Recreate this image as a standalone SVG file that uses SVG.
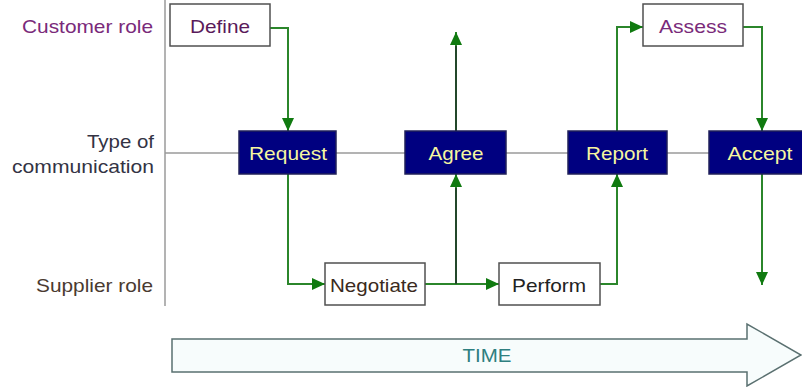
<svg xmlns="http://www.w3.org/2000/svg" width="802" height="387" viewBox="0 0 802 387">
  <style>
    text { font-family: "Liberation Sans", Arial, sans-serif; font-size: 19px; }
    .lane { fill: none; stroke: #9a9a9a; stroke-width: 1.5; }
    .role { text-anchor: end; }
    .step { fill: #ffffff; stroke: #505050; stroke-width: 1.5; }
    .msg { fill: #000080; stroke: #20205a; stroke-width: 1.5; }
    .msg-label { fill: #f6f6a0; text-anchor: middle; }
    .step-label { text-anchor: middle; }
    .flow { fill: none; stroke: #2b862b; stroke-width: 2; marker-end: url(#head); }
    .flow-dark { fill: none; stroke: #23472a; stroke-width: 2; }
  </style>
  <defs>
    <marker id="head" markerUnits="userSpaceOnUse" markerWidth="14" markerHeight="12" refX="13" refY="6" orient="auto">
      <path d="M0,0 L13,6 L0,12 Z" fill="#107a10"/>
    </marker>
  </defs>

  <rect width="802" height="387" fill="#ffffff"/>

  <!-- swimlane axes -->
  <g id="lanes">
    <line class="lane" x1="165" y1="0" x2="165" y2="306"/>
    <line class="lane" x1="165" y1="153" x2="802" y2="153"/>
  </g>

  <!-- role labels -->
  <g id="roles">
    <text class="role" x="153" y="33" fill="#7a2a7a" textLength="131" lengthAdjust="spacingAndGlyphs">Customer role</text>
    <text class="role" x="154" y="148" fill="#333344" textLength="67" lengthAdjust="spacingAndGlyphs">Type of</text>
    <text class="role" x="154" y="173" fill="#333344" textLength="142" lengthAdjust="spacingAndGlyphs">communication</text>
    <text class="role" x="153" y="292" fill="#4a3a30" textLength="117" lengthAdjust="spacingAndGlyphs">Supplier role</text>
  </g>

  <!-- connectors -->
  <g id="connectors">
    <path class="flow" d="M270,28 H288 V131"/>
    <path class="flow" d="M288,174 V284 H325"/>
    <path class="flow-dark" d="M456,131 V44"/>
    <path class="flow" d="M456,46 V32"/>
    <path class="flow" d="M425,284 H499"/>
    <path class="flow-dark" d="M456,284 V186"/>
    <path class="flow" d="M456,188 V174"/>
    <path class="flow" d="M600,284 H617 V174"/>
    <path class="flow" d="M617,131 V27 H643"/>
    <path class="flow" d="M743,27 H762 V131"/>
    <path class="flow" d="M762,174 V285"/>
  </g>

  <g id="define">
    <rect class="step" x="170" y="4" width="100" height="42"/>
    <text class="step-label" x="220" y="33" fill="#5a1a5a" textLength="60" lengthAdjust="spacingAndGlyphs">Define</text>
  </g>

  <g id="assess">
    <rect class="step" x="643" y="4" width="100" height="42"/>
    <text class="step-label" x="693" y="33" fill="#7a2a7a" textLength="68" lengthAdjust="spacingAndGlyphs">Assess</text>
  </g>

  <g id="request">
    <rect class="msg" x="239" y="131" width="97" height="43"/>
    <text class="msg-label" x="288" y="160" textLength="78" lengthAdjust="spacingAndGlyphs">Request</text>
  </g>

  <g id="agree">
    <rect class="msg" x="405" y="131" width="101" height="43"/>
    <text class="msg-label" x="456" y="160" textLength="55" lengthAdjust="spacingAndGlyphs">Agree</text>
  </g>

  <g id="report">
    <rect class="msg" x="568" y="131" width="99" height="43"/>
    <text class="msg-label" x="617" y="160" textLength="62" lengthAdjust="spacingAndGlyphs">Report</text>
  </g>

  <g id="accept">
    <rect class="msg" x="709" y="131" width="100" height="43"/>
    <text class="msg-label" x="760" y="160" textLength="65" lengthAdjust="spacingAndGlyphs">Accept</text>
  </g>

  <g id="negotiate">
    <rect class="step" x="325" y="263" width="100" height="42"/>
    <text class="step-label" x="374" y="292" fill="#3a2a20" textLength="88" lengthAdjust="spacingAndGlyphs">Negotiate</text>
  </g>

  <g id="perform">
    <rect class="step" x="499" y="263" width="101" height="42"/>
    <text class="step-label" x="549" y="292" fill="#222222" textLength="74" lengthAdjust="spacingAndGlyphs">Perform</text>
  </g>

  <!-- time arrow -->
  <g id="time">
    <path d="M172,339 H747 V324 L801,355 L747,386 V372 H172 Z" fill="#f7fcfc" stroke="#5a7070" stroke-width="1.5"/>
    <text x="487" y="362" fill="#2e7f80" text-anchor="middle" textLength="49" lengthAdjust="spacingAndGlyphs">TIME</text>
  </g>
</svg>
